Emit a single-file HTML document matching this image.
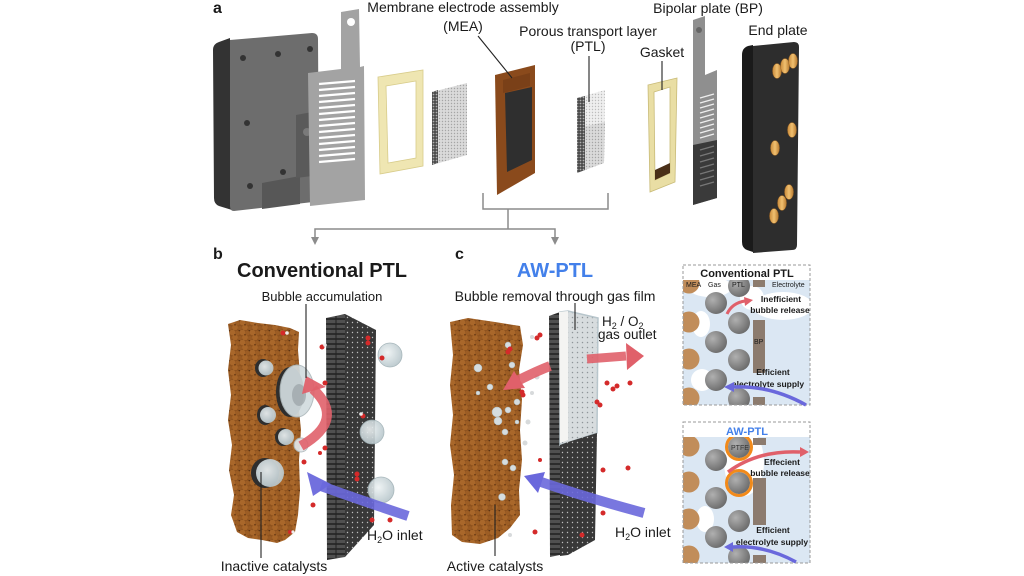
<!DOCTYPE html>
<html><head><meta charset="utf-8"><style>
html,body{margin:0;padding:0;background:#fff;}
svg{display:block;}
text{font-family:"Liberation Sans",Arial,sans-serif;fill:#1a1a1a;}
</style></head><body>
<svg width="1024" height="576" viewBox="0 0 1024 576" xmlns="http://www.w3.org/2000/svg">
<defs>
 <pattern id="cat" width="10" height="10" patternUnits="userSpaceOnUse">
  <rect width="10" height="10" fill="#8e521e"/>
  <circle cx="2.5" cy="2.5" r="2.8" fill="#a9672a"/>
  <circle cx="7.5" cy="3" r="2.4" fill="#9c5d24"/>
  <circle cx="5" cy="7.5" r="2.9" fill="#a86629"/>
  <circle cx="0" cy="8" r="2" fill="#995a23"/>
  <circle cx="10" cy="8" r="2" fill="#995a23"/>
  <circle cx="5" cy="4.8" r="0.8" fill="#5e3412"/>
  <circle cx="9.3" cy="0.5" r="0.8" fill="#5e3412"/>
 </pattern>
 <pattern id="mesh" width="5" height="5" patternUnits="userSpaceOnUse">
  <rect width="5" height="5" fill="#383838"/>
  <circle cx="2.5" cy="2.5" r="0.7" fill="#bdbdbd"/>
 </pattern>
 <pattern id="meshL" width="5" height="5" patternUnits="userSpaceOnUse">
  <rect width="5" height="5" fill="#d7dcde"/>
  <circle cx="2.5" cy="2.5" r="0.75" fill="#8f969a"/>
 </pattern>
 <pattern id="ptl" width="3" height="3" patternUnits="userSpaceOnUse">
  <rect width="3" height="3" fill="#dadada"/>
  <circle cx="1.5" cy="1.5" r="0.7" fill="#a5a5a5"/>
 </pattern>
 <pattern id="ptlW" width="3" height="3" patternUnits="userSpaceOnUse">
  <rect width="3" height="3" fill="#efefef"/>
  <circle cx="1.5" cy="1.5" r="0.7" fill="#bdbdbd"/>
 </pattern>
 <pattern id="ptlD" width="3" height="3" patternUnits="userSpaceOnUse">
  <rect width="3" height="3" fill="#4a4a4a"/>
  <circle cx="1.5" cy="1.5" r="0.9" fill="#b0b0b0"/>
 </pattern>
 <pattern id="strip" width="6" height="5" patternUnits="userSpaceOnUse">
  <rect width="6" height="5" fill="#2c2c2c"/>
  <rect width="6" height="3" fill="#505050"/>
 </pattern>
 <radialGradient id="gball" cx="0.35" cy="0.35" r="0.75">
  <stop offset="0" stop-color="#b0b0b0"/><stop offset="1" stop-color="#666"/>
 </radialGradient>
 <radialGradient id="bub" cx="0.4" cy="0.4" r="0.65">
  <stop offset="0" stop-color="#eef3f4"/><stop offset="1" stop-color="#b6c5ca"/>
 </radialGradient>
 <linearGradient id="gold" x1="0" y1="0" x2="1" y2="0">
  <stop offset="0" stop-color="#c98a3a"/><stop offset="0.5" stop-color="#f0c070"/><stop offset="1" stop-color="#b87a30"/>
 </linearGradient>
 <clipPath id="box1"><rect x="683" y="280" width="127" height="125"/></clipPath>
 <clipPath id="box2"><rect x="683" y="437" width="127" height="126"/></clipPath>
</defs>

<!-- ===== Panel a ===== -->
<text x="213" y="13" font-size="16" font-weight="bold">a</text>

<path d="M213,50 Q213,44 219,42 L230,38 L232,210 L219,206 Q214,204 214,198 Z" fill="#333"/>
<path d="M230,40 L312,33 Q318,33 318,39 L319,196 Q319,201 313,202 L234,211 Q230,211 230,206 Z" fill="#6d6d6d"/>
<path d="M262,183 L300,176 L300,204 L262,209 Z" fill="#575757"/>
<path d="M296,115 L312,112 L312,176 L296,178 Z" fill="#5a5a5a"/>
<circle cx="243" cy="58" r="3" fill="#333"/><circle cx="278" cy="54" r="3" fill="#333"/>
<circle cx="310" cy="49" r="3" fill="#333"/><circle cx="247" cy="123" r="3" fill="#333"/>
<circle cx="250" cy="186" r="3" fill="#333"/><circle cx="283" cy="172" r="3" fill="#333"/>
<circle cx="307" cy="132" r="4" fill="#7a7a7a"/>

<path d="M308,73 L341,69 L341,12 L359,9 L360,67 L364,66 L365,200 L310,206 Z" fill="#a3a3a3"/>
<circle cx="351" cy="22" r="4" fill="#fff"/>
<g stroke="#fff" stroke-width="2.2">
 <line x1="319" y1="84" x2="355" y2="81"/><line x1="319" y1="90" x2="355" y2="87"/>
 <line x1="319" y1="96" x2="355" y2="93"/><line x1="319" y1="102" x2="355" y2="99"/>
 <line x1="319" y1="108" x2="355" y2="105"/><line x1="319" y1="114" x2="355" y2="111"/>
 <line x1="319" y1="120" x2="355" y2="117"/><line x1="319" y1="126" x2="355" y2="123"/>
 <line x1="319" y1="132" x2="355" y2="129"/><line x1="319" y1="138" x2="355" y2="135"/>
 <line x1="319" y1="144" x2="355" y2="141"/><line x1="319" y1="150" x2="355" y2="147"/>
 <line x1="319" y1="156" x2="355" y2="153"/><line x1="319" y1="162" x2="355" y2="159"/>
</g>

<path d="M378,77 L423,70 L423,166 L380,174 Z M386,86 L416,81 L416,158 L388,163 Z" fill="#efe6b2" fill-rule="evenodd" stroke="#d8cc8a" stroke-width="0.8"/>

<path d="M432,92 L467,83 L467,155 L432,165 Z" fill="url(#ptl)"/>
<path d="M432,92 L438,90 L438,163 L432,165 Z" fill="url(#ptlD)"/>

<path d="M495,75 L535,65 L535,173 L497,195 Z" fill="#8a4a1c"/>
<path d="M503,80 L530,73 L530,86 L503,93 Z" fill="#7a4018"/>
<path d="M505,93 L532,87 L532,160 L507,172 Z" fill="#2f2f2f"/>

<path d="M577,98 L605,90 L604,163 L577,173 Z" fill="url(#ptlW)"/>
<path d="M577,128 L605,122 L604,163 L577,173 Z" fill="url(#ptl)"/>
<path d="M577,98 L585,96 L585,170 L577,173 Z" fill="url(#ptlD)"/>

<path d="M648,85 L677,78 L675,182 L650,192 Z M654,92 L670,87 L670,173 L655,180 Z" fill="#e9dea4" fill-rule="evenodd" stroke="#c9bb78" stroke-width="0.8"/>
<path d="M655,170 L670,163 L670,173 L655,180 Z" fill="#4a3018"/>

<path d="M693,20 L705,16 L705,75 L717,70 L717,198 L693,205 Z" fill="#8f8f8f"/>
<circle cx="699" cy="30" r="3" fill="#666"/>
<path d="M693,145 L717,140 L717,198 L693,205 Z" fill="#3a3a3a"/>
<g stroke="#eee" stroke-width="1.3">
 <line x1="700" y1="98" x2="714" y2="94"/><line x1="700" y1="103" x2="714" y2="99"/>
 <line x1="700" y1="108" x2="714" y2="104"/><line x1="700" y1="113" x2="714" y2="109"/>
 <line x1="700" y1="118" x2="714" y2="114"/><line x1="700" y1="123" x2="714" y2="119"/>
 <line x1="700" y1="128" x2="714" y2="124"/><line x1="700" y1="133" x2="714" y2="129"/>
 <line x1="700" y1="138" x2="714" y2="134"/>
</g>
<g stroke="#777" stroke-width="1.3">
 <line x1="700" y1="150" x2="714" y2="146"/><line x1="700" y1="156" x2="714" y2="152"/>
 <line x1="700" y1="162" x2="714" y2="158"/><line x1="700" y1="168" x2="714" y2="164"/>
 <line x1="700" y1="174" x2="714" y2="170"/><line x1="700" y1="180" x2="714" y2="176"/>
 <line x1="700" y1="186" x2="714" y2="182"/>
</g>

<path d="M742,55 Q742,48 748,46 L753,45 L753,252 L747,250 Q742,248 742,242 Z" fill="#1a1a1a"/>
<path d="M753,46 L794,42 Q799,42 799,47 L797,245 Q797,250 792,250 L753,253 Z" fill="#2d2d2d"/>
<g fill="url(#gold)" stroke="#9a6424" stroke-width="0.5">
 <ellipse cx="777" cy="71" rx="4.5" ry="7.5"/><ellipse cx="785" cy="66" rx="4.5" ry="7.5"/>
 <ellipse cx="793" cy="61" rx="4.5" ry="7.5"/><ellipse cx="792" cy="130" rx="4.5" ry="7.5"/>
 <ellipse cx="775" cy="148" rx="4.5" ry="7.5"/><ellipse cx="789" cy="192" rx="4.5" ry="7.5"/>
 <ellipse cx="782" cy="203" rx="4.5" ry="7.5"/><ellipse cx="774" cy="216" rx="4.5" ry="7.5"/>
</g>

<g font-size="14">
 <text x="463" y="12" text-anchor="middle">Membrane electrode assembly</text>
 <text x="463" y="31" text-anchor="middle">(MEA)</text>
 <text x="588" y="36" text-anchor="middle">Porous transport layer</text>
 <text x="588" y="51" text-anchor="middle">(PTL)</text>
 <text x="662" y="57" text-anchor="middle">Gasket</text>
 <text x="708" y="13" text-anchor="middle">Bipolar plate (BP)</text>
 <text x="778" y="35" text-anchor="middle">End plate</text>
</g>
<g stroke="#222" stroke-width="1.1">
 <line x1="478" y1="36" x2="512" y2="78"/>
 <line x1="589" y1="56" x2="589" y2="102"/>
 <line x1="662" y1="61" x2="662" y2="90"/>
</g>

<g stroke="#8c8c8c" stroke-width="1.5" fill="none">
 <polyline points="483,193 483,209 608,209 608,193"/>
 <line x1="508" y1="209" x2="508" y2="229"/>
 <polyline points="315,238 315,229 555,229 555,238"/>
</g>
<polygon points="311,237 319,237 315,245" fill="#8c8c8c"/>
<polygon points="551,237 559,237 555,245" fill="#8c8c8c"/>

<!-- ===== Panel b ===== -->
<text x="213" y="259" font-size="16" font-weight="bold">b</text>
<text x="322" y="277" font-size="20" font-weight="bold" text-anchor="middle">Conventional PTL</text>
<text x="322" y="301" font-size="13" text-anchor="middle">Bubble accumulation</text>

<path d="M228,324 L240,320 L258,323 L275,325 L290,328 L299,332 L298,350 L300,375 L298,400 L301,430 L299,460 L300,490 L298,515 L295,532 L285,540 L277,543 L262,540 L248,538 L237,532 L231,515 L234,495 L229,470 L232,445 L228,420 L231,395 L228,370 L231,345 Z" fill="url(#cat)"/>
<g fill="#2e2e2e">
 <ellipse cx="263" cy="368" rx="8" ry="9"/><ellipse cx="265" cy="415" rx="8" ry="10"/>
 <ellipse cx="283" cy="437" rx="8" ry="9"/><ellipse cx="265" cy="473" rx="14" ry="15"/>
 <ellipse cx="290" cy="392" rx="14" ry="25"/>
</g>
<g fill="url(#bub)" opacity="0.92">
 <circle cx="266" cy="368" r="7.5"/><circle cx="268" cy="415" r="8"/>
 <circle cx="286" cy="437" r="8"/><circle cx="270" cy="473" r="14"/>
 <ellipse cx="297" cy="391" rx="17" ry="26" fill="#d2dcdf" stroke="#aeb9bc" stroke-width="1"/>
 <circle cx="301" cy="445" r="7" fill="#e3e8ea" stroke="#b0bbbe"/>
</g>
<ellipse cx="299" cy="395" rx="7" ry="11" fill="#9aa3a6" opacity="0.7"/>

<path d="M326,318 L345,314 L345,557 L327,560 Z" fill="url(#strip)"/>
<line x1="336" y1="316" x2="336" y2="558" stroke="#222" stroke-width="1"/>
<path d="M345,314 L376,330 L374,525 L345,557 Z" fill="url(#mesh)"/>

<g fill="url(#bub)" stroke="#9fb0b5" stroke-width="0.8" opacity="0.9">
 <circle cx="390" cy="355" r="12"/><circle cx="372" cy="432" r="12"/><circle cx="381" cy="490" r="13"/>
</g>

<g fill="#d42a2a">
 <circle cx="283" cy="333" r="2.5"/><circle cx="322" cy="347" r="2.5"/><circle cx="368" cy="338" r="2.5"/><circle cx="368" cy="343" r="2.5"/>
 <circle cx="382" cy="358" r="2.5"/><circle cx="325" cy="383" r="2.5"/><circle cx="363" cy="416" r="2.5"/>
 <circle cx="357" cy="474" r="2.5"/><circle cx="357" cy="479" r="2.5"/><circle cx="313" cy="505" r="2.5"/>
 <circle cx="372" cy="520" r="2.5"/><circle cx="390" cy="520" r="2.5"/><circle cx="290" cy="532" r="2"/>
 <circle cx="325" cy="448" r="2.5"/><circle cx="320" cy="453" r="2"/><circle cx="304" cy="462" r="2.5"/>
</g>
<g fill="#eee"><circle cx="287" cy="333" r="1.8"/><circle cx="325" cy="345" r="1.8"/><circle cx="361" cy="414" r="1.8"/><circle cx="293" cy="532" r="1.6"/></g>

<path d="M301,446 Q346,420 313,389" fill="none" stroke="#e0606a" stroke-width="10" opacity="0.9"/>
<polygon points="306,376 326,387 302,394" fill="#e0606a" opacity="0.95"/>
<path d="M408,516 Q360,500 321,486" fill="none" stroke="#6a68dc" stroke-width="10" opacity="0.9"/>
<polygon points="307,472 331,484 313,496" fill="#6a68dc" opacity="0.95"/>

<text x="367" y="540" font-size="14">H<tspan font-size="9" dy="3">2</tspan><tspan dy="-3">O inlet</tspan></text>
<text x="274" y="571" font-size="14" text-anchor="middle">Inactive catalysts</text>
<g stroke="#222" stroke-width="1.1">
 <line x1="306" y1="304" x2="306" y2="378"/>
 <line x1="261" y1="472" x2="261" y2="558"/>
</g>

<!-- ===== Panel c ===== -->
<text x="455" y="259" font-size="16" font-weight="bold">c</text>
<text x="555" y="277" font-size="20" font-weight="bold" text-anchor="middle" style="fill:#4380ea">AW-PTL</text>
<text x="555" y="301" font-size="14" text-anchor="middle">Bubble removal through gas film</text>

<path d="M450,322 L468,318 L495,322 L520,326 L523,345 L519,370 L522,400 L520,430 L522,460 L519,490 L520,515 L510,528 L498,538 L480,544 L462,542 L452,535 L451,505 L454,475 L450,445 L453,415 L450,385 L453,355 Z" fill="url(#cat)"/>
<g fill="#d5dde0" stroke="#aab5b8" stroke-width="0.5">
 <circle cx="508" cy="345" r="3"/><circle cx="512" cy="365" r="3"/><circle cx="478" cy="368" r="4"/>
 <circle cx="490" cy="387" r="3"/><circle cx="497" cy="412" r="5"/><circle cx="498" cy="421" r="4"/>
 <circle cx="508" cy="410" r="3"/><circle cx="517" cy="402" r="3"/><circle cx="505" cy="432" r="3"/>
 <circle cx="517" cy="422" r="2"/><circle cx="505" cy="462" r="3"/><circle cx="513" cy="468" r="3"/>
 <circle cx="502" cy="497" r="3.5"/><circle cx="478" cy="393" r="2"/>
</g>
<g fill="#d7dadb">
 <circle cx="532" cy="337" r="2"/><circle cx="537" cy="377" r="2.5"/><circle cx="532" cy="393" r="2"/>
 <circle cx="528" cy="422" r="2.5"/><circle cx="525" cy="443" r="2.5"/><circle cx="510" cy="535" r="2"/>
</g>

<path d="M549,316 L560,312 L560,555 L550,557 Z" fill="url(#strip)"/>
<path d="M560,312 L568,311 L598,318 L597,433 L567,443 L560,445 Z" fill="url(#meshL)" stroke="#b8c6cc" stroke-width="1.5"/>
<path d="M559,312 L568,311 L568,440 L560,443 Z" fill="#f4f4f2"/>
<path d="M560,445 L568,442 L597,433 L595,540 L568,555 L560,556 Z" fill="url(#mesh)"/>

<g fill="#d42a2a">
 <circle cx="537" cy="338" r="2.5"/><circle cx="540" cy="335" r="2.5"/><circle cx="508" cy="352" r="2.5"/><circle cx="510" cy="349" r="2.5"/>
 <circle cx="522" cy="392" r="2.5"/><circle cx="523" cy="395" r="2.5"/><circle cx="597" cy="402" r="2.5"/><circle cx="600" cy="405" r="2.5"/>
 <circle cx="607" cy="383" r="2.5"/><circle cx="613" cy="389" r="2.5"/><circle cx="617" cy="386" r="2.5"/>
 <circle cx="630" cy="383" r="2.5"/><circle cx="603" cy="470" r="2.5"/><circle cx="628" cy="468" r="2.5"/>
 <circle cx="603" cy="513" r="2.5"/><circle cx="535" cy="532" r="2.5"/><circle cx="582" cy="535" r="2.5"/><circle cx="540" cy="460" r="2"/>
</g>

<path d="M550,366 Q537,371 519,380" fill="none" stroke="#e0606a" stroke-width="10" opacity="0.9"/>
<polygon points="503,390 514,371 525,388" fill="#e0606a"/>
<path d="M587,359 L626,356" fill="none" stroke="#e0606a" stroke-width="9" opacity="0.9"/>
<polygon points="626,343 644,356 627,370" fill="#e0606a"/>
<path d="M644,513 Q588,498 541,482" fill="none" stroke="#6a68dc" stroke-width="10" opacity="0.9"/>
<polygon points="524,476 545,472 538,493" fill="#6a68dc"/>

<g font-size="13.5">
 <text x="602" y="326">H<tspan font-size="9" dy="3">2</tspan><tspan dy="-3"> / O</tspan><tspan font-size="9" dy="3">2</tspan></text>
 <text x="598" y="339">gas outlet</text>
</g>
<text x="615" y="537" font-size="14">H<tspan font-size="9" dy="3">2</tspan><tspan dy="-3">O inlet</tspan></text>
<text x="495" y="571" font-size="14" text-anchor="middle">Active catalysts</text>
<g stroke="#222" stroke-width="1.1">
 <line x1="575" y1="303" x2="575" y2="330"/>
 <line x1="495" y1="505" x2="495" y2="556"/>
</g>

<!-- ===== Box 1 ===== -->
<rect x="683" y="280" width="127" height="125" fill="#dbe7f3"/>
<g clip-path="url(#box1)">
 <g fill="#fff">
  <ellipse cx="710" cy="287" rx="22" ry="10"/>
  <ellipse cx="701" cy="324" rx="9" ry="13"/>
  <ellipse cx="702" cy="380" rx="11" ry="11"/>
  <ellipse cx="783" cy="306" rx="30" ry="14"/>
  <ellipse cx="752" cy="298" rx="12" ry="12"/>
 </g>
 <g fill="#c18d5a">
  <circle cx="689" cy="283" r="10.5"/><circle cx="689" cy="322" r="10.5"/>
  <circle cx="689" cy="359" r="10.5"/><circle cx="689" cy="398" r="10.5"/>
 </g>
 <g fill="url(#gball)">
  <circle cx="716" cy="303" r="11"/><circle cx="716" cy="342" r="11"/><circle cx="716" cy="380" r="11"/>
  <circle cx="739" cy="286" r="11"/><circle cx="739" cy="323" r="11"/><circle cx="739" cy="360" r="11"/><circle cx="739" cy="399" r="11"/>
 </g>
 <g fill="#8c7b6e">
  <rect x="753" y="280" width="12" height="7"/><rect x="753" y="320" width="12" height="53"/><rect x="753" y="397" width="12" height="8"/>
 </g>
</g>
<rect x="683" y="265" width="127" height="140" fill="none" stroke="#9a9a9a" stroke-width="1" stroke-dasharray="3,2"/>
<text x="747" y="277" font-size="11" font-weight="bold" text-anchor="middle">Conventional PTL</text>
<g font-size="7" style="fill:#333">
 <text x="686" y="287">MEA</text><text x="708" y="287">Gas</text><text x="732" y="287">PTL</text>
 <text x="772" y="287">Electrolyte</text><text x="754" y="344">BP</text>
</g>
<g font-size="8.5" font-weight="bold" text-anchor="middle">
 <text x="781" y="302">Inefficient</text><text x="780" y="313">bubble release</text>
 <text x="773" y="375">Efficient</text><text x="768" y="387">electrolyte supply</text>
</g>
<path d="M727,314 Q732,303 745,301" fill="none" stroke="#e0606a" stroke-width="3"/>
<polygon points="753,300 744,297 745,306" fill="#e0606a"/>
<path d="M806,405 Q770,385 733,387" fill="none" stroke="#6a68dc" stroke-width="3.5"/>
<polygon points="724,387 734,382 734,392" fill="#6a68dc"/>

<!-- ===== Box 2 ===== -->
<rect x="683" y="437" width="127" height="126" fill="#dbe7f3"/>
<g clip-path="url(#box2)">
 <g fill="#fff">
  <ellipse cx="744" cy="462" rx="20" ry="34"/>
  <ellipse cx="705" cy="519" rx="9" ry="13"/>
 </g>
 <g fill="#c18d5a">
  <circle cx="689" cy="446" r="10.5"/><circle cx="689" cy="482" r="10.5"/>
  <circle cx="689" cy="519" r="10.5"/><circle cx="689" cy="556" r="10.5"/>
 </g>
 <g fill="url(#gball)">
  <circle cx="716" cy="460" r="11"/><circle cx="716" cy="498" r="11"/><circle cx="716" cy="537" r="11"/>
  <circle cx="739" cy="447" r="11"/><circle cx="739" cy="483" r="11"/><circle cx="739" cy="521" r="11"/><circle cx="739" cy="557" r="11"/>
 </g>
 <g fill="none" stroke="#f28a1a" stroke-width="3">
  <circle cx="739" cy="447" r="12.5"/><circle cx="739" cy="483" r="12.5"/>
 </g>
 <g fill="#8c7b6e">
  <rect x="753" y="438" width="13" height="7"/><rect x="753" y="478" width="13" height="47"/><rect x="753" y="555" width="13" height="8"/>
 </g>
</g>
<rect x="683" y="422" width="127" height="141" fill="none" stroke="#9a9a9a" stroke-width="1" stroke-dasharray="3,2"/>
<text x="747" y="435" font-size="11" font-weight="bold" text-anchor="middle" style="fill:#4380ea">AW-PTL</text>
<text x="731" y="450" font-size="7" style="fill:#333">PTFE</text>
<g font-size="8.5" font-weight="bold" text-anchor="middle">
 <text x="782" y="465">Effecient</text><text x="780" y="476">bubble release</text>
 <text x="773" y="533">Efficient</text><text x="772" y="545">electrolyte supply</text>
</g>
<path d="M728,472 Q758,450 800,452" fill="none" stroke="#e0606a" stroke-width="3.5"/>
<polygon points="809,452 800,447 800,457" fill="#e0606a"/>
<path d="M796,562 Q765,545 733,547" fill="none" stroke="#6a68dc" stroke-width="3.5"/>
<polygon points="724,547 733,542 733,552" fill="#6a68dc"/>
</svg>
</body></html>
